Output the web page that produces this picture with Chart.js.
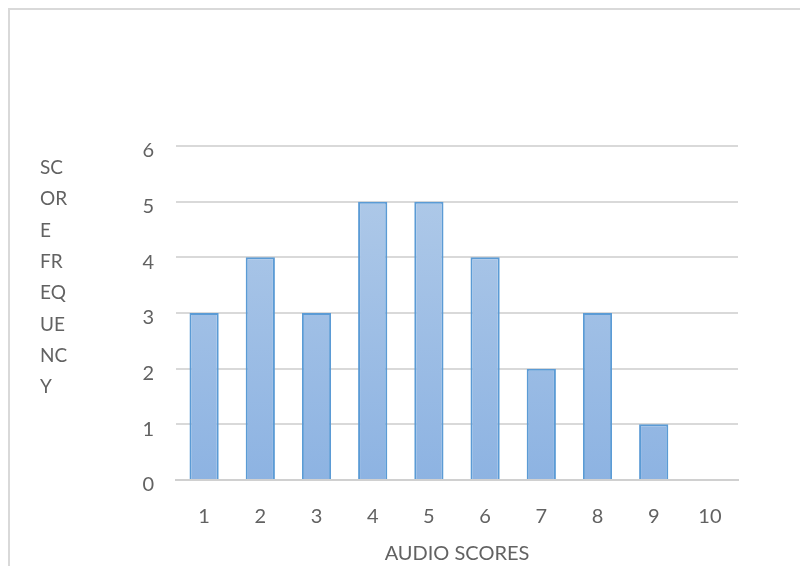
<!DOCTYPE html>
<html>
<head>
<meta charset="utf-8">
<script src="https://cdn.jsdelivr.net/npm/chart.js@4/dist/chart.umd.min.js"></script>
<style>
  html, body { margin: 0; padding: 0; background: #ffffff; }
  #wrap { width: 800px; height: 566px; position: relative; }
</style>
</head>
<body>
<div id="wrap"><canvas id="chart" width="800" height="566"></canvas></div>
<script>
// Audio score frequency distribution
const categories = ['1', '2', '3', '4', '5', '6', '7', '8', '9', '10'];
const frequencies = [3, 4, 3, 5, 5, 4, 2, 3, 1, 0];
const yTicks = [0, 1, 2, 3, 4, 5, 6];
const xTitle = 'AUDIO SCORES';
const yTitleLines = ['SC', 'OR', 'E', 'FR', 'EQ', 'UE', 'NC', 'Y'];

const FONT = 'Lato, "Open Sans", sans-serif';
const TEXT = '#626262';
const GRID = '#d9d9d9';

// Frame around the chart and the stacked y-axis title
const decorations = {
  id: 'decorations',
  beforeDraw(chart) {
    const ctx = chart.ctx;
    ctx.save();
    ctx.strokeStyle = '#d9d9d9';
    ctx.lineWidth = 2;
    ctx.beginPath();
    ctx.moveTo(9, 566);
    ctx.lineTo(9, 9);
    ctx.lineTo(800, 9);
    ctx.stroke();
    ctx.restore();
  },
  afterDraw(chart) {
    const ctx = chart.ctx;
    ctx.save();
    ctx.fillStyle = TEXT;
    ctx.font = '19px ' + FONT;
    ctx.textAlign = 'left';
    ctx.textBaseline = 'middle';
    yTitleLines.forEach((t, i) => ctx.fillText(t, 40, 168 + i * 31.3));
    ctx.restore();
  }
};

const ctx = document.getElementById('chart').getContext('2d');
new Chart(ctx, {
  type: 'bar',
  data: {
    labels: categories,
    datasets: [{
      data: frequencies,
      backgroundColor(c) {
        const area = c.chart.chartArea;
        if (!area) return '#9fbfe5';
        const g = c.chart.ctx.createLinearGradient(0, area.top, 0, area.bottom);
        g.addColorStop(0, '#b3cce9');
        g.addColorStop(1, '#8db3e2');
        return g;
      },
      borderColor: '#5b9bd5',
      borderWidth: 2,
      borderSkipped: 'bottom',
      categoryPercentage: 1,
      barPercentage: 0.52
    }]
  },
  options: {
    responsive: false,
    animation: false,
    devicePixelRatio: 1,
    layout: { padding: { left: 20, top: 146, right: 62, bottom: 0 } },
    plugins: { legend: { display: false }, tooltip: { enabled: false } },
    scales: {
      x: {
        grid: { display: false, drawTicks: false },
        border: { display: true, color: '#d0d0d0', width: 2 },
        ticks: { color: TEXT, font: { family: FONT, size: 20 }, padding: 25 },
        title: {
          display: true, text: xTitle, color: TEXT,
          font: { family: FONT, size: 20 }, padding: { top: 11, bottom: 0 }
        },
        afterFit(s) { s.height = 86; }
      },
      y: {
        min: 0, max: 6,
        grid: { color: GRID, lineWidth: 2, drawTicks: false },
        border: { display: false },
        afterBuildTicks(s) { s.ticks = yTicks.map(v => ({ value: v })); },
        ticks: { color: TEXT, font: { family: FONT, size: 20 }, padding: 22, labelOffset: 5 },
        afterFit(s) { s.width = 156; }
      }
    }
  },
  plugins: [decorations]
});
</script>
</body>
</html>
